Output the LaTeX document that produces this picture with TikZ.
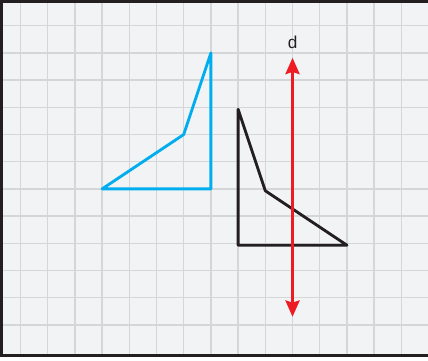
\documentclass[tikz,border=0pt]{standalone}
\usepackage{fontspec}
\setmainfont{Liberation Sans}
\usetikzlibrary{arrows.meta}
\definecolor{paper}{HTML}{F2F3F5}
\definecolor{gridgray}{HTML}{D5D6D8}
\definecolor{figblue}{HTML}{00AEEF}
\definecolor{figblack}{HTML}{231F20}
\definecolor{axisred}{HTML}{ED1C24}

\begin{document}
\begin{tikzpicture}[x=1cm, y={(0,-1cm)},
  gridline/.style={draw=gridgray, line width=1.5pt},
  figline/.style={line width=3pt, line join=round},
  axis/.style={draw=axisred, line width=2.6pt,
    {Stealth[length=6mm, width=5.2mm, inset=0.8mm]}-{Stealth[length=6mm, width=5.2mm, inset=0.8mm]}},
  every node/.style={font=\fontsize{18}{20}\selectfont}]
\useasboundingbox (-0.754,-0.945) rectangle (14.98,12.29);

% ---- squared paper ----
\fill[paper] (-0.754,-0.945) rectangle (15.5,12.11);
\foreach \c in {0,1,...,14} {
  \draw[gridline] (\c,-0.9) -- (\c,12.1);
}
\foreach \r in {0,1,...,11} {
  \draw[gridline] (-0.7,\r) -- (15.5,\r);
}
\draw[figblack, line width=3.1pt] (15.5,-0.89) -- (-0.70,-0.89) -- (-0.70,12.11) -- (15.5,12.11);

% ---- the two figures ----
\draw[figline, figblue] (3,6) -- (6,4) -- (7,1) -- (7,6) -- cycle;
\draw[figline, figblack] (8,3.07) -- (9,6.07) -- (12,8.07) -- (8,8.07) -- cycle;

% ---- axis d ----
\coordinate (dtop) at (10,1.18);
\coordinate (dbot) at (10,10.7);
\node[text=figblack] (dlabel) at (10,0.62) {d};
\draw[axis] (dbot) -- (dtop);
\end{tikzpicture}
\end{document}
